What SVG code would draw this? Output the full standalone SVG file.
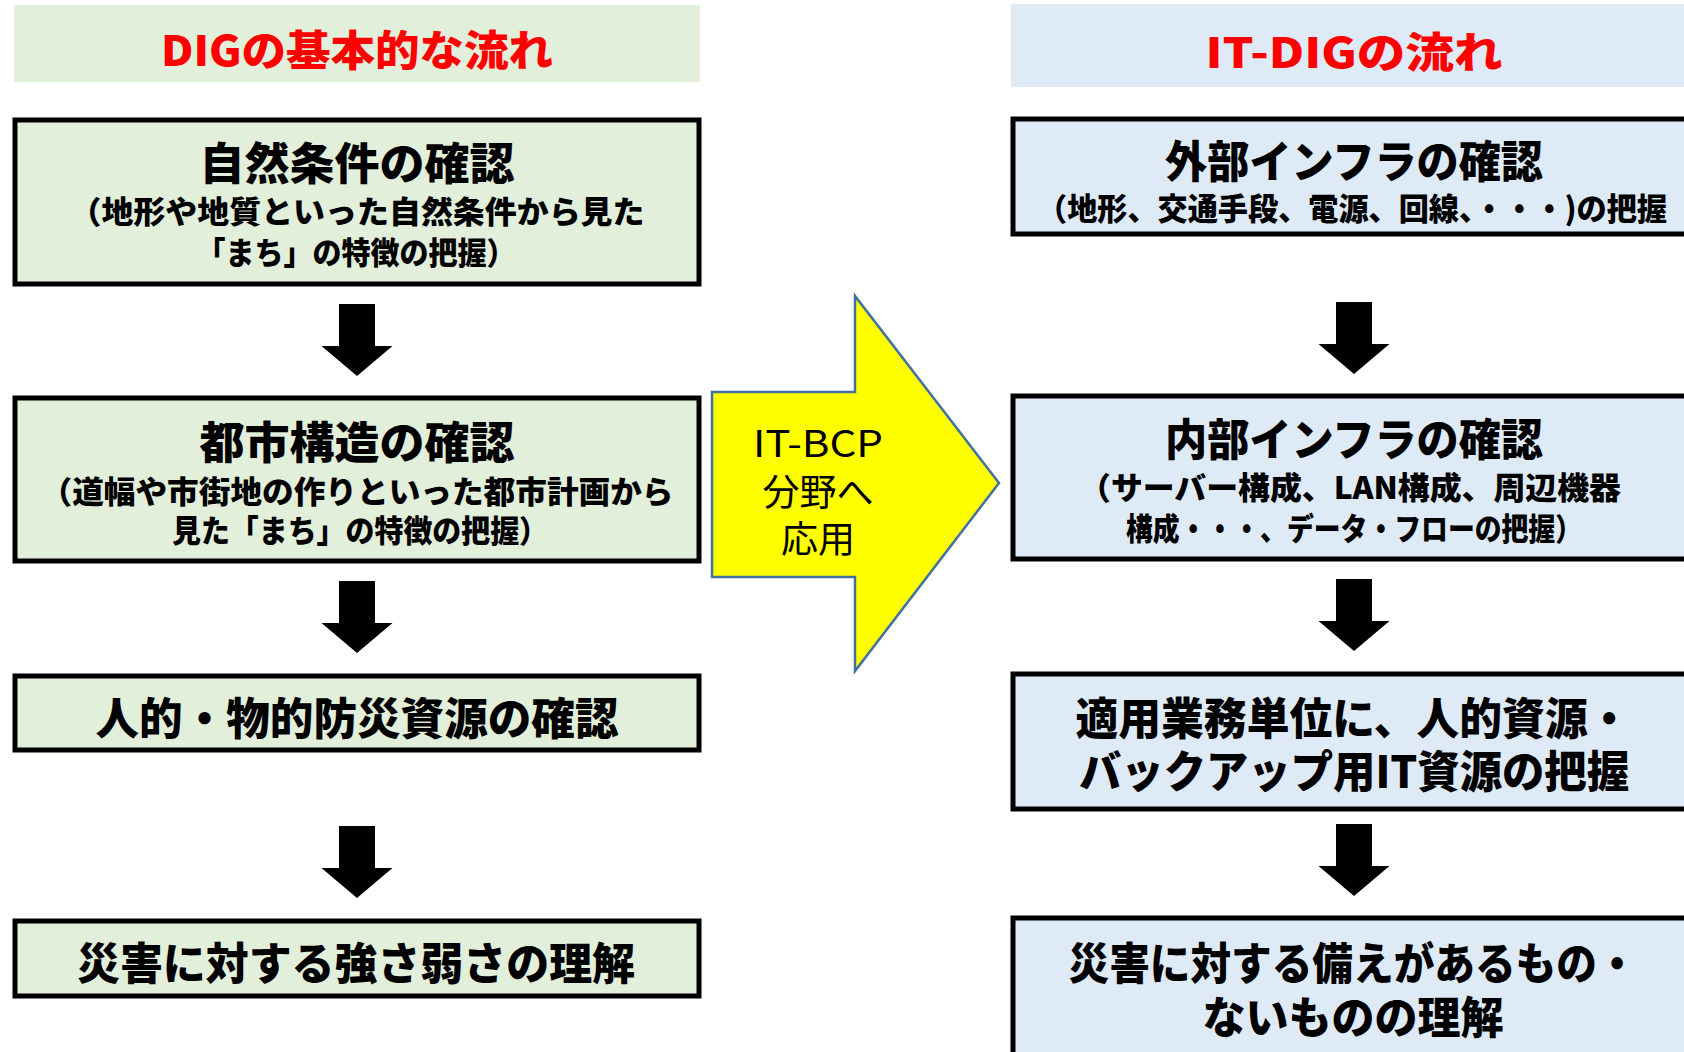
<svg xmlns="http://www.w3.org/2000/svg" xmlns:xlink="http://www.w3.org/1999/xlink" width="1684" height="1052" viewBox="0 0 1684 1052">
<style>
.bandL{fill:#E2EFDA}
.bandR{fill:#DEEBF7}
.boxL{fill:#E2EFDA;stroke:#000;stroke-width:5}
.boxR{fill:#DEEBF7;stroke:#000;stroke-width:5}
text{font-family:"Noto Sans CJK JP","Noto Sans",sans-serif;text-anchor:middle;dominant-baseline:central}
.title{fill:#FF0000;font-weight:900;font-size:42px}
.big{fill:#000;font-weight:900;font-size:44px}
.sub{fill:#000;font-weight:900;font-size:31px}
.yel{fill:#000;font-weight:400;font-size:37px}
.blk{fill:#000}
</style>
<defs>
<path id="downArrow" d="M-18,0 H18 V42 H35.5 L0,72 L-35.5,42 H-18 Z"/>
</defs>
<rect width="1684" height="1052" fill="#FFFFFF"/>

<g id="titleLeft">
<rect class="bandL" x="14" y="5" width="686" height="77"/>
<text class="title" x="357" y="47" textLength="392" lengthAdjust="spacingAndGlyphs">DIGの基本的な流れ</text>
</g>
<g id="titleRight">
<rect class="bandR" x="1011" y="4" width="686" height="83"/>
<text class="title" x="1354" y="49" textLength="297" lengthAdjust="spacingAndGlyphs">IT-DIGの流れ</text>
</g>

<g id="L1">
<rect class="boxL" x="15" y="120" width="684" height="164"/>
<text class="big" x="357" y="161" textLength="315" lengthAdjust="spacingAndGlyphs">自然条件の確認</text>
<text class="sub" x="357" y="209" textLength="575" lengthAdjust="spacingAndGlyphs">（地形や地質といった自然条件から見た</text>
<text class="sub" x="356" y="250" textLength="319" lengthAdjust="spacingAndGlyphs">「まち」の特徴の把握）</text>
</g>
<g id="L2">
<rect class="boxL" x="15" y="398" width="684" height="163"/>
<text class="big" x="357" y="440" textLength="315" lengthAdjust="spacingAndGlyphs">都市構造の確認</text>
<text class="sub" x="357" y="489" textLength="633" lengthAdjust="spacingAndGlyphs">（道幅や市街地の作りといった都市計画から</text>
<text class="sub" x="360" y="528" textLength="376" lengthAdjust="spacingAndGlyphs">見た「まち」の特徴の把握）</text>
</g>
<g id="L3">
<rect class="boxL" x="15" y="676" width="684" height="74"/>
<text class="big" x="357" y="716" textLength="523" lengthAdjust="spacingAndGlyphs">人的・物的防災資源の確認</text>
</g>
<g id="L4">
<rect class="boxL" x="15" y="921" width="684" height="75"/>
<text class="big" x="356" y="961" textLength="558" lengthAdjust="spacingAndGlyphs">災害に対する強さ弱さの理解</text>
</g>

<g id="R1">
<rect class="boxR" x="1013" y="119" width="690" height="115"/>
<text class="big" x="1354" y="159" textLength="378" lengthAdjust="spacingAndGlyphs">外部インフラの確認</text>
<text class="sub" x="1352" y="206" textLength="630" lengthAdjust="spacingAndGlyphs">（地形、交通手段、電源、回線、・・・)の把握</text>
</g>
<g id="R2">
<rect class="boxR" x="1013" y="396" width="690" height="163"/>
<text class="big" x="1354" y="437" textLength="378" lengthAdjust="spacingAndGlyphs">内部インフラの確認</text>
<text class="sub" x="1350" y="485" textLength="542" lengthAdjust="spacingAndGlyphs">（サーバー構成、LAN構成、周辺機器</text>
<text class="sub" x="1354" y="526" textLength="456" lengthAdjust="spacingAndGlyphs">構成・・・、データ・フローの把握）</text>
</g>
<g id="R3">
<rect class="boxR" x="1013" y="674" width="690" height="135"/>
<text class="big" x="1353" y="716" textLength="555" lengthAdjust="spacingAndGlyphs">適用業務単位に、人的資源・</text>
<text class="big" x="1354" y="769" textLength="550" lengthAdjust="spacingAndGlyphs">バックアップ用IT資源の把握</text>
</g>
<g id="R4">
<rect class="boxR" x="1013" y="918" width="690" height="140"/>
<text class="big" x="1353" y="961" textLength="569" lengthAdjust="spacingAndGlyphs">災害に対する備えがあるもの・</text>
<text class="big" x="1353" y="1015" textLength="301" lengthAdjust="spacingAndGlyphs">ないものの理解</text>
</g>

<g id="bigArrow">
<polygon points="712,392 855,392 855,296 999,483 855,671 855,577 712,577" fill="#FFFF00" stroke="#41719C" stroke-width="2.5"/>
<text class="yel" x="818" y="441" textLength="130" lengthAdjust="spacingAndGlyphs">IT-BCP</text>
<text class="yel" x="818" y="490">分野へ</text>
<text class="yel" x="818" y="537">応用</text>
</g>

<g id="connectors" class="blk">
<use xlink:href="#downArrow" href="#downArrow" x="357" y="304"/>
<use xlink:href="#downArrow" href="#downArrow" x="357" y="581"/>
<use xlink:href="#downArrow" href="#downArrow" x="357" y="826"/>
<use xlink:href="#downArrow" href="#downArrow" x="1354" y="302"/>
<use xlink:href="#downArrow" href="#downArrow" x="1354" y="579"/>
<use xlink:href="#downArrow" href="#downArrow" x="1354" y="824"/>
</g>
</svg>
